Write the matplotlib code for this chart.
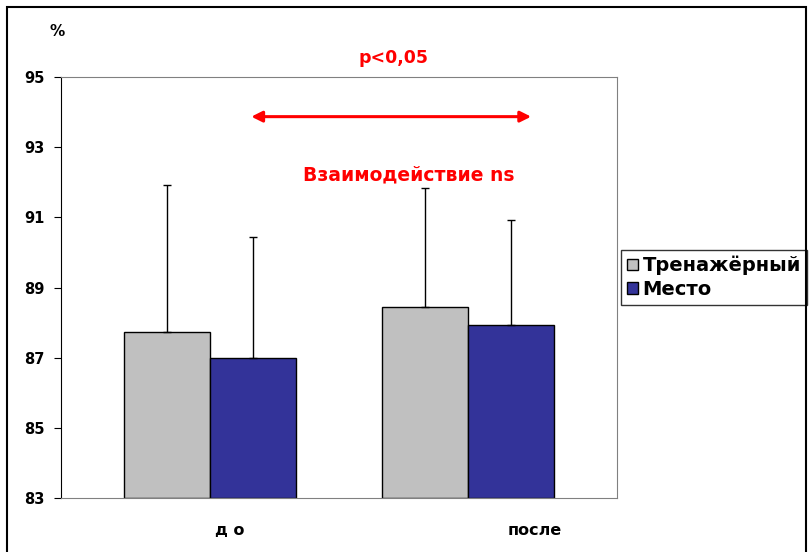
import numpy as np
import matplotlib.pyplot as plt
from matplotlib.patches import Rectangle

# group labels and series
groups = ['д о', 'после']
series = ['Тренажёрный', 'Место']
means = {
    'Тренажёрный': [87.72, 88.45],
    'Место': [86.98, 87.92],
}
errs = {
    'Тренажёрный': [4.19, 3.40],
    'Место': [3.47, 2.99],
}
colors = {'Тренажёрный': '#C0C0C0', 'Место': '#333399'}

plt.rcParams['font.family'] = ['DejaVu Sans']
plt.rcParams['font.weight'] = 'bold'

fig = plt.figure(figsize=(8.1, 5.52), dpi=100)
ax = fig.add_axes([0.0753, 0.0978, 0.6864, 0.7627])

x = np.arange(len(groups))
width = 0.333
for i, name in enumerate(series):
    pos = x + (i - 0.5) * width
    ax.bar(pos, np.array(means[name]) - 83, width, bottom=83,
           color=colors[name], edgecolor='black', linewidth=1.0, label=name)
    ax.errorbar(pos, means[name], yerr=[np.zeros(len(pos)), errs[name]],
                fmt='none', ecolor='black', elinewidth=1.0, capsize=3, capthick=1.0)

ax.set_xlim(-0.578, 1.578)
ax.set_ylim(83, 95)
ax.set_yticks(np.arange(83, 96, 2))
ax.tick_params(axis='y', direction='out', length=5, labelsize=10.5, pad=7)
ax.set_xticks([0.075, 1.26])
ax.set_xticklabels(groups, fontsize=11.5)
ax.tick_params(axis='x', length=0, pad=18)

for side in ['top', 'right', 'bottom']:
    ax.spines[side].set_color('#808080')
ax.spines['left'].set_color('black')

# significance arrow and notes
ax.annotate('', xy=(0.16, 93.87), xytext=(1.245, 93.87),
            arrowprops=dict(arrowstyle='<|-|>', color='red', lw=2.2,
                            mutation_scale=16, shrinkA=0, shrinkB=0))
ax.text(0.71, 95.55, 'p<0,05', color='red', fontsize=12.5, ha='center', va='center',
        clip_on=False)
ax.text(0.771, 92.21, 'Взаимодействие ns', color='red', fontsize=13.5,
        ha='center', va='center')

fig.text(57 / 810, 1 - 31 / 552, '%', fontsize=11, ha='center', va='center')

leg = ax.legend(loc='upper left', bbox_to_anchor=(621 / 810, 1 - 250 / 552),
                bbox_transform=fig.transFigure, fontsize=14, frameon=True,
                fancybox=False, handlelength=0.55, handleheight=0.55,
                handletextpad=0.25, borderpad=0.3, labelspacing=0.25,
                borderaxespad=0)
leg.get_frame().set_edgecolor('black')
leg.get_frame().set_linewidth(1.0)

# outer chart frame
fig.patches.append(Rectangle((7 / 810, -0.05), 799 / 810, 1.05 - 7 / 552,
                             transform=fig.transFigure, fill=False,
                             edgecolor='black', linewidth=1.5, zorder=10))

fig.savefig('out.png', dpi=100)
